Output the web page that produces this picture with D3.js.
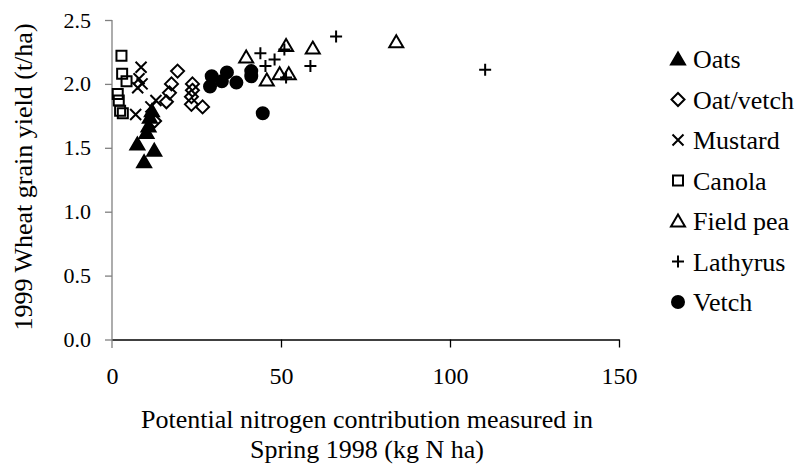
<!DOCTYPE html>
<html>
<head>
<meta charset="utf-8">
<script src="https://cdn.jsdelivr.net/npm/d3@7"></script>
<style>
  body { margin: 0; background: #fff; }
</style>
</head>
<body>
<svg id="chart" width="800" height="472"></svg>
<script>
// data: [N contribution, grain yield]
var oats = [[7.5,1.53],[12.5,1.48],[9.5,1.39],[10.2,1.62],[10.8,1.67],[11.2,1.74],[11.8,1.79]]
var oatVetch = [[19.4,2.10],[17.6,2.00],[23.8,2.00],[17.0,1.93],[23.8,1.95],[16.1,1.86],[23.5,1.90],[23.5,1.84],[26.8,1.82],[12.6,1.71]]
var mustard = [[8.6,2.13],[8.0,2.04],[8.9,2.00],[7.6,1.97],[7.0,1.76],[11.5,1.82],[13.0,1.87]]
var canola = [[2.8,2.22],[3.0,2.08],[4.3,2.02],[1.7,1.92],[2.0,1.87],[3.2,1.77],[2.4,1.79]]
var fieldPea = [[39.7,2.21],[51.5,2.30],[59.4,2.28],[45.8,2.03],[49.6,2.08],[52.3,2.08],[84.1,2.33]]
var lathyrus = [[43.9,2.24],[48.1,2.19],[45.4,2.14],[51.0,2.27],[51.5,2.05],[58.7,2.14],[66.3,2.37],[110.4,2.11]]
var vetch = [[29.5,2.06],[29.0,1.98],[32.5,2.02],[34.0,2.09],[36.8,2.01],[41.2,2.10],[41.2,2.06],[44.6,1.77]]

var seriesNames = ['Oats', 'Oat/vetch', 'Mustard', 'Canola', 'Field pea', 'Lathyrus', 'Vetch']
var xTicks = [0, 50, 100, 150]
var yTicks = [0, 0.5, 1.0, 1.5, 2.0, 2.5]

var serif = '"Liberation Serif", "Times New Roman", serif'

// marker shapes, d3 symbol type style
var tri = { draw: function(c, s) { c.moveTo(0, -6.5); c.lineTo(7, 5.5); c.lineTo(-7, 5.5); c.closePath() } }
var dia = { draw: function(c, s) { c.moveTo(0, -6.5); c.lineTo(6.5, 0); c.lineTo(0, 6.5); c.lineTo(-6.5, 0); c.closePath() } }
var sq = { draw: function(c, s) { c.rect(-5, -5, 10, 10) } }
var ex = { draw: function(c, s) { c.moveTo(-5.5, -5.5); c.lineTo(5.5, 5.5); c.moveTo(5.5, -5.5); c.lineTo(-5.5, 5.5) } }
var pl = { draw: function(c, s) { c.moveTo(-6, 0); c.lineTo(6, 0); c.moveTo(0, -6); c.lineTo(0, 6) } }
var dot = { draw: function(c, s) { c.moveTo(6, 0); c.arc(0, 0, 6, 0, 2 * Math.PI) } }

var series = [
  { name: seriesNames[0], data: oats, shape: tri, fill: '#000' },
  { name: seriesNames[1], data: oatVetch, shape: dia, fill: 'none' },
  { name: seriesNames[2], data: mustard, shape: ex, fill: 'none' },
  { name: seriesNames[3], data: canola, shape: sq, fill: 'none' },
  { name: seriesNames[4], data: fieldPea, shape: tri, fill: 'none' },
  { name: seriesNames[5], data: lathyrus, shape: pl, fill: 'none' },
  { name: seriesNames[6], data: vetch, shape: dot, fill: '#000' }
]

var svg = d3.select('#chart')

var x = d3.scaleLinear().domain([0, 150]).range([112, 619])
var y = d3.scaleLinear().domain([0, 2.5]).range([339.5, 20])

// y axis (grey)
var yAxis = svg.append('g')
  .attr('transform', 'translate(112,0)')
  .call(d3.axisLeft(y).tickValues(yTicks).tickFormat(d3.format('.1f')).tickSize(7).tickSizeOuter(0).tickPadding(14))
yAxis.select('.domain').remove()
yAxis.selectAll('line').attr('stroke', '#808080').attr('stroke-width', 1.3)
yAxis.selectAll('text')
  .style('font-family', serif).style('font-size', '22px').attr('fill', '#000')
yAxis.append('line')
  .attr('y1', y(2.5)).attr('y2', 348)
  .attr('stroke', '#808080').attr('stroke-width', 1.3)

// x axis (black)
var xAxis = svg.append('g')
  .attr('transform', 'translate(0,339.5)')
  .call(d3.axisBottom(x).tickValues(xTicks).tickSize(8).tickSizeOuter(0).tickPadding(19))
xAxis.select('.domain').attr('stroke', '#000').attr('stroke-width', 1.3)
xAxis.selectAll('line').attr('stroke', '#000').attr('stroke-width', 1.3)
xAxis.selectAll('.tick').filter(d => d === 0).select('line').remove()
xAxis.selectAll('text')
  .style('font-family', serif).style('font-size', '24px').attr('fill', '#000')

// axis titles
svg.append('text')
  .attr('transform', 'translate(32,177) rotate(-90)')
  .attr('text-anchor', 'middle')
  .style('font-family', serif).style('font-size', '26px')
  .text('1999 Wheat grain yield (t/ha)')

svg.append('text')
  .attr('x', 367).attr('y', 428)
  .attr('text-anchor', 'middle')
  .style('font-family', serif).style('font-size', '26px')
  .text('Potential nitrogen contribution measured in')
svg.append('text')
  .attr('x', 367).attr('y', 458)
  .attr('text-anchor', 'middle')
  .style('font-family', serif).style('font-size', '26px')
  .text('Spring 1998 (kg N ha)')

// points
series.forEach(function(s) {
  svg.append('g')
    .selectAll('path')
    .data(s.data)
    .enter()
    .append('path')
      .attr('transform', d => 'translate(' + x(d[0]) + ',' + y(d[1]) + ')')
      .attr('d', d3.symbol().type(s.shape))
      .attr('fill', s.fill)
      .attr('stroke', '#000')
      .attr('stroke-width', 2)
})

// legend
var leg = svg.append('g')
  .selectAll('g')
  .data(series)
  .enter()
  .append('g')
    .attr('transform', (d, i) => 'translate(678,' + (59 + i * 40.5) + ')')

leg.append('path')
  .attr('d', d => d3.symbol().type(d.shape)())
  .attr('fill', d => d.fill)
  .attr('stroke', '#000')
  .attr('stroke-width', 2)

leg.append('text')
  .attr('x', 15)
  .attr('y', 9)
  .style('font-family', serif).style('font-size', '26px')
  .text(d => d.name)
</script>
</body>
</html>
